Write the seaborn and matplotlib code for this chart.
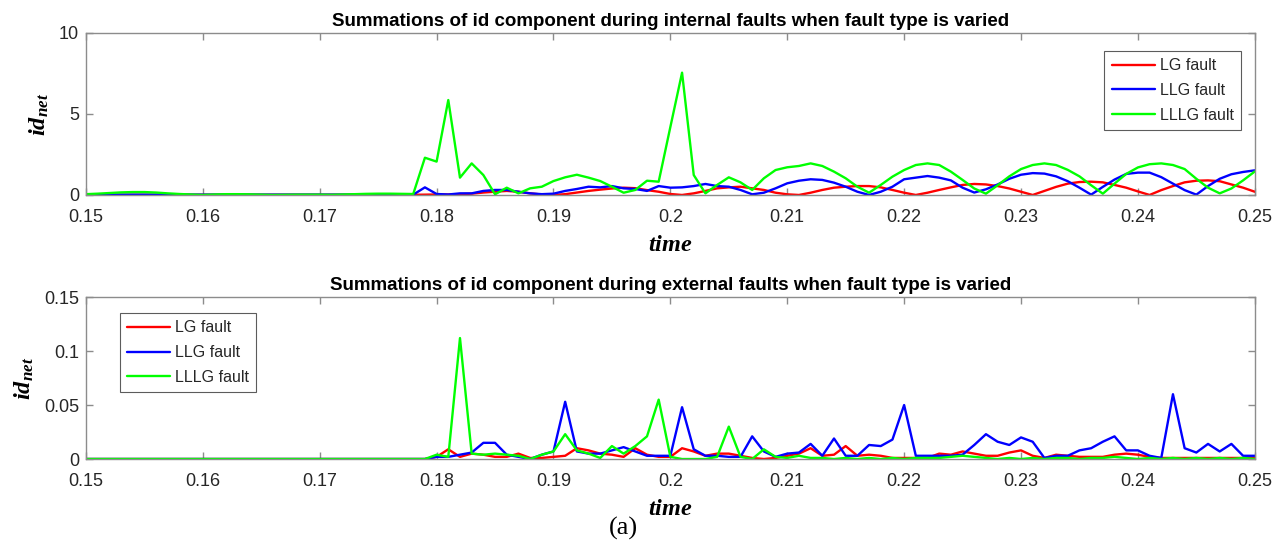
import numpy as np
import pandas as pd
import matplotlib
matplotlib.use("Agg")
import matplotlib.pyplot as plt
import seaborn as sns

# ---------------- data ----------------
time = np.round(np.arange(0.150, 0.2505, 0.001), 3)
series_names = ["LG fault", "LLG fault", "LLLG fault"]
series_colors = ["#ff0000", "#0000ff", "#00ff00"]

# internal faults (top)
int_lg = [
    0.01, 0.01, 0.01, 0.01, 0.01, 0.01, 0.01, 0.01, 0.01, 0.01,   # 0.150-0.159
    0.01, 0.01, 0.01, 0.01, 0.01, 0.01, 0.01, 0.01, 0.01, 0.01,   # 0.160-0.169
    0.01, 0.01, 0.01, 0.01, 0.01, 0.01, 0.01, 0.01, 0.01, 0.02,   # 0.170-0.179
    0.03, 0.03, 0.05, 0.08, 0.15, 0.20, 0.25, 0.20, 0.10, 0.03,   # 0.180-0.189
    0.00, 0.05, 0.15, 0.25, 0.33, 0.40, 0.45, 0.42, 0.30, 0.20,   # 0.190-0.199
    0.06, 0.00, 0.10, 0.25, 0.41, 0.47, 0.51, 0.41, 0.31, 0.14,   # 0.200-0.209
    0.04, 0.00, 0.14, 0.31, 0.45, 0.51, 0.55, 0.55, 0.47, 0.31,   # 0.210-0.219
    0.14, 0.00, 0.14, 0.31, 0.47, 0.62, 0.68, 0.65, 0.55, 0.40,   # 0.220-0.229
    0.20, 0.00, 0.25, 0.50, 0.70, 0.80, 0.82, 0.78, 0.62, 0.45,   # 0.230-0.239
    0.22, 0.00, 0.30, 0.55, 0.78, 0.88, 0.90, 0.85, 0.65, 0.45,   # 0.240-0.249
    0.20,                                                         # 0.250
]
int_llg = [
    0.02, 0.02, 0.02, 0.02, 0.02, 0.02, 0.02, 0.02, 0.02, 0.02,
    0.02, 0.02, 0.02, 0.02, 0.02, 0.02, 0.02, 0.02, 0.02, 0.02,
    0.02, 0.02, 0.02, 0.02, 0.02, 0.02, 0.02, 0.02, 0.02, 0.47,
    0.06, 0.03, 0.10, 0.10, 0.25, 0.31, 0.31, 0.20, 0.10, 0.05,
    0.08, 0.25, 0.37, 0.51, 0.47, 0.55, 0.41, 0.37, 0.25, 0.55,
    0.45, 0.47, 0.55, 0.68, 0.55, 0.51, 0.31, 0.04, 0.14, 0.41,
    0.72, 0.88, 0.97, 0.93, 0.76, 0.51, 0.20, 0.00, 0.20, 0.51,
    0.97, 1.07, 1.17, 1.07, 0.90, 0.45, 0.15, 0.35, 0.65, 1.00,
    1.25, 1.35, 1.32, 1.15, 0.85, 0.45, 0.02, 0.50, 0.95, 1.30,
    1.38, 1.38, 1.10, 0.70, 0.30, 0.02, 0.55, 1.00, 1.28, 1.42,
    1.52,
]
int_lllg = [
    0.05, 0.08, 0.12, 0.16, 0.18, 0.18, 0.15, 0.10, 0.06, 0.03,
    0.00, 0.03, 0.05, 0.05, 0.04, 0.02, 0.00, 0.01, 0.02, 0.02,
    0.02, 0.01, 0.03, 0.05, 0.07, 0.08, 0.08, 0.07, 0.06, 2.30,
    2.06, 5.86, 1.07, 1.95, 1.23, 0.04, 0.45, 0.10, 0.41, 0.51,
    0.86, 1.09, 1.25, 1.07, 0.86, 0.51, 0.14, 0.31, 0.88, 0.82,
    4.20, 7.55, 1.23, 0.10, 0.62, 1.09, 0.78, 0.31, 1.03, 1.54,
    1.71, 1.79, 1.95, 1.79, 1.44, 1.03, 0.51, 0.14, 0.62, 1.13,
    1.54, 1.85, 1.95, 1.85, 1.44, 0.93, 0.40, 0.08, 0.60, 1.15,
    1.60, 1.85, 1.95, 1.85, 1.55, 1.15, 0.60, 0.08, 0.70, 1.30,
    1.70, 1.90, 1.95, 1.85, 1.60, 1.00, 0.45, 0.10, 0.40, 0.90,
    1.45,
]

# external faults (bottom)
ext_lg = [
    0, 0, 0, 0, 0, 0, 0, 0, 0, 0,
    0, 0, 0, 0, 0, 0, 0, 0, 0, 0,
    0, 0, 0, 0, 0, 0, 0, 0, 0, 0,
    0.002, 0.009, 0.002, 0.005, 0.004, 0.002, 0.002, 0.005, 0.001, 0.001,
    0.002, 0.003, 0.010, 0.008, 0.005, 0.004, 0.002, 0.010, 0.004, 0.002,
    0.002, 0.010, 0.007, 0.003, 0.005, 0.005, 0.003, 0.001, 0.000, 0.001,
    0.003, 0.005, 0.010, 0.003, 0.004, 0.012, 0.003, 0.004, 0.003, 0.001,
    0.001, 0.001, 0.001, 0.005, 0.004, 0.007, 0.005, 0.003, 0.003, 0.006,
    0.008, 0.003, 0.001, 0.004, 0.003, 0.002, 0.002, 0.002, 0.004, 0.005,
    0.004, 0.002, 0.001, 0.001, 0.001, 0.001, 0.001, 0.001, 0.001, 0.001,
    0.001,
]
ext_llg = [
    0, 0, 0, 0, 0, 0, 0, 0, 0, 0,
    0, 0, 0, 0, 0, 0, 0, 0, 0, 0,
    0, 0, 0, 0, 0, 0, 0, 0, 0, 0,
    0.002, 0.002, 0.004, 0.006, 0.015, 0.015, 0.004, 0.002, 0.000, 0.004,
    0.007, 0.053, 0.007, 0.005, 0.005, 0.008, 0.011, 0.007, 0.003, 0.003,
    0.003, 0.048, 0.009, 0.003, 0.003, 0.002, 0.002, 0.021, 0.007, 0.002,
    0.005, 0.006, 0.014, 0.003, 0.019, 0.003, 0.003, 0.013, 0.012, 0.018,
    0.050, 0.003, 0.003, 0.003, 0.003, 0.004, 0.013, 0.023, 0.016, 0.013,
    0.020, 0.016, 0.001, 0.003, 0.003, 0.008, 0.010, 0.016, 0.021, 0.008,
    0.008, 0.003, 0.001, 0.060, 0.010, 0.006, 0.014, 0.007, 0.014, 0.003,
    0.003,
]
ext_lllg = [
    0, 0, 0, 0, 0, 0, 0, 0, 0, 0,
    0, 0, 0, 0, 0, 0, 0, 0, 0, 0,
    0, 0, 0, 0, 0, 0, 0, 0, 0, 0,
    0.004, 0.002, 0.112, 0.005, 0.004, 0.005, 0.004, 0.003, 0.000, 0.004,
    0.007, 0.023, 0.008, 0.005, 0.001, 0.012, 0.005, 0.012, 0.021, 0.055,
    0.002, 0.000, 0.000, 0.000, 0.002, 0.030, 0.002, 0.000, 0.009, 0.002,
    0.001, 0.003, 0.001, 0.001, 0.000, 0.001, 0.000, 0.001, 0.000, 0.001,
    0.000, 0.001, 0.001, 0.001, 0.002, 0.003, 0.002, 0.001, 0.000, 0.001,
    0.000, 0.001, 0.000, 0.001, 0.001, 0.000, 0.001, 0.001, 0.002, 0.001,
    0.000, 0.001, 0.000, 0.001, 0.000, 0.001, 0.000, 0.001, 0.000, 0.001,
    0.000,
]

x_ticks = [0.15, 0.16, 0.17, 0.18, 0.19, 0.20, 0.21, 0.22, 0.23, 0.24, 0.25]
x_ticklabels = ["0.15", "0.16", "0.17", "0.18", "0.19", "0.2", "0.21", "0.22", "0.23", "0.24", "0.25"]
top_yticks = [0, 5, 10]
bot_yticks = [0, 0.05, 0.1, 0.15]
bot_yticklabels = ["0", "0.05", "0.1", "0.15"]

top_title = "Summations of id component during internal faults when fault type is varied"
bot_title = "Summations of id component during external faults when fault type is varied"

# ---------------- style ----------------
sns.set_theme(style="white")
plt.rcParams["font.family"] = ["Liberation Sans", "DejaVu Sans"]
plt.rcParams["mathtext.fontset"] = "custom"
plt.rcParams["mathtext.rm"] = "Liberation Serif"
plt.rcParams["mathtext.it"] = "Liberation Serif:italic"
plt.rcParams["mathtext.bf"] = "Liberation Serif:italic:bold"

spine_col = "#8c8c8c"
text_col = "#262626"

fig = plt.figure(figsize=(12.83, 5.46), dpi=100)
ax1 = fig.add_axes([0.067, 0.6429, 0.911, 0.2967])
ax2 = fig.add_axes([0.067, 0.1593, 0.911, 0.2967])


def long_df(a, b, c):
    frames = []
    for name, vals in zip(series_names, [a, b, c]):
        frames.append(pd.DataFrame({"time": time, "val": vals, "series": name}))
    return pd.concat(frames, ignore_index=True)


palette = dict(zip(series_names, series_colors))

for ax, df, yt, ytl, ylim, title, leg_loc, leg_anchor in [
    (ax1, long_df(int_lg, int_llg, int_lllg), top_yticks, [str(v) for v in top_yticks],
     (0, 10), top_title, "upper right", (0.988, 0.889)),
    (ax2, long_df(ext_lg, ext_llg, ext_lllg), bot_yticks, bot_yticklabels,
     (0, 0.15), bot_title, "upper left", (0.029, 0.901)),
]:
    sns.lineplot(data=df, x="time", y="val", hue="series", palette=palette,
                 hue_order=series_names, linewidth=1.7, ax=ax, estimator=None,
                 sort=False)
    ax.set_xlim(0.15, 0.25)
    ax.set_ylim(*ylim)
    ax.set_xticks(x_ticks)
    ax.set_xticklabels(x_ticklabels)
    ax.set_yticks(yt)
    ax.set_yticklabels(ytl)
    for s in ax.spines.values():
        s.set_color(spine_col)
        s.set_linewidth(1.0)
    ax.tick_params(direction="in", length=5, width=1.0, color=spine_col,
                   top=True, right=True, bottom=True, left=True,
                   labelsize=13, labelcolor=text_col)
    ax.tick_params(axis="x", pad=10)
    ax.tick_params(axis="y", pad=5)
    ax.set_title(title, fontsize=13.5, fontweight="bold", color="black", pad=5)
    ax.set_xlabel(r"$\mathbf{time}$", fontsize=17.5, color="black", labelpad=6)
    ax.set_ylabel(r"$\mathbf{id}_{\mathbf{net}}$", fontsize=17.5, color="black", labelpad=6)
    leg = ax.legend(loc=leg_loc, bbox_to_anchor=leg_anchor, fontsize=11.5,
                    frameon=True, fancybox=False, handlelength=2.7,
                    borderpad=0.45, labelspacing=0.62, handletextpad=0.3,
                    borderaxespad=0)
    leg.get_frame().set_edgecolor("#333333")
    leg.get_frame().set_linewidth(0.8)
    leg.set_title(None)

fig.text(0.486, 0.033, "(a)", fontsize=19, family="Liberation Serif", color="black",
         ha="center", va="center")

fig.savefig("out.png", dpi=100, facecolor="white")
